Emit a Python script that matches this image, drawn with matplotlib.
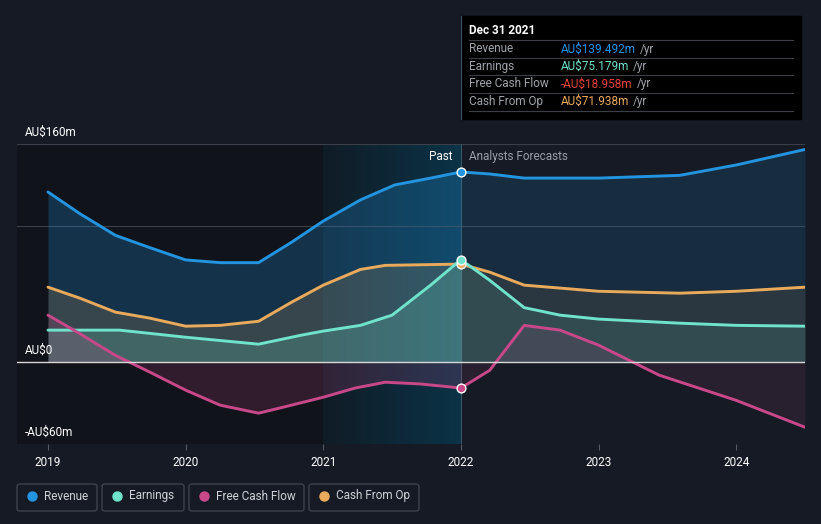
import numpy as np
import matplotlib
matplotlib.use('Agg')
from matplotlib import pyplot as plt
from matplotlib.colors import LinearSegmentedColormap
from matplotlib.patches import FancyBboxPatch, Rectangle

plt.rcParams['font.family'] = ['Roboto', 'DejaVu Sans']

# values (AU$ m), x in decimal years
rev_x = [2019.0, 2019.23, 2019.49, 2019.74, 2020.0, 2020.25, 2020.53, 2020.77, 2021.0, 2021.27, 2021.52, 2021.78, 2022.0]
rev_y = [124.8, 109, 93, 84, 75, 73, 73, 88, 103.5, 119, 130, 135, 139.492]
rev_fx = [2022.0, 2022.21, 2022.46, 2023.0, 2023.59, 2024.0, 2024.5]
rev_fy = [139.492, 138, 135, 135, 137, 144.6, 156]

earn_x = [2019.0, 2019.52, 2020.0, 2020.53, 2020.84, 2021.0, 2021.27, 2021.5, 2021.78, 2022.0]
earn_y = [23.5, 23.5, 18.3, 13.2, 19.8, 22.8, 27, 34.5, 56.5, 75.179]
earn_fx = [2022.0, 2022.21, 2022.46, 2022.72, 2023.0, 2023.59, 2024.0, 2024.5]
earn_fy = [75.179, 60, 40, 34.5, 31.6, 28.6, 27, 26.4]

fcf_x = [2019.0, 2019.23, 2019.49, 2019.74, 2020.0, 2020.25, 2020.53, 2020.77, 2021.0, 2021.23, 2021.45, 2021.71, 2022.0]
fcf_y = [34.5, 21, 5, -7.3, -20.5, -31.5, -37.4, -31.5, -25.7, -19, -14.7, -16, -18.958]
fcf_fx = [2022.0, 2022.21, 2022.46, 2022.72, 2023.0, 2023.44, 2024.0, 2024.5]
fcf_fy = [-18.958, -5.9, 27, 23.5, 12.5, -9.5, -28, -47.7]

cfo_x = [2019.0, 2019.23, 2019.49, 2019.74, 2020.0, 2020.25, 2020.53, 2020.77, 2021.0, 2021.27, 2021.45, 2022.0]
cfo_y = [55, 47, 36.7, 32.3, 26.4, 27, 30, 44, 56.5, 68, 71, 71.938]
cfo_fx = [2022.0, 2022.21, 2022.46, 2023.0, 2023.59, 2024.0, 2024.5]
cfo_fy = [71.938, 66, 56.5, 52, 50.6, 52, 55]

years = [2019, 2020, 2021, 2022, 2023, 2024]
legend_names = ['Revenue', 'Earnings', 'Free Cash Flow', 'Cash From Op']

BG = '#151a24'
C_REV = '#2394df'
C_EARN = '#6fe3cb'
C_FCF = '#c8488a'
C_CFO = '#e9ab5b'

fig = plt.figure(figsize=(8.21, 5.24), dpi=100, facecolor=BG)
ax = fig.add_axes([17 / 821, 80 / 524, 788 / 821, 300 / 524])
ax.set_facecolor(BG)
x0 = 2019 - 31 / 137.6
ax.set_xlim(x0, 2024.5)
ax.set_ylim(-60, 160)

# darker past area and gradient band for last year
ax.add_patch(Rectangle((x0, -60), 2021 - x0, 220, color='#101319', zorder=0, lw=0))
grad = np.linspace(0, 1, 256).reshape(1, -1)
cmap = LinearSegmentedColormap.from_list('band', ['#101c26', '#0b3347'])
ax.imshow(grad, extent=[2021, 2022, -60, 160], aspect='auto', cmap=cmap, zorder=0.5)

for g in [100, 160]:
    ax.axhline(g, color='#3a3f4a', lw=0.8, zorder=1)
ax.axhline(0, color='#d8d8d8', lw=1.0, zorder=6)
ax.axvline(2022, color='#3a5566', lw=0.8, zorder=1)

series = [
    (rev_x, rev_y, rev_fx, rev_fy, C_REV, 0.25),
    (cfo_x, cfo_y, cfo_fx, cfo_fy, C_CFO, 0.16),
    (earn_x, earn_y, earn_fx, earn_fy, C_EARN, 0.2),
    (fcf_x, fcf_y, fcf_fx, fcf_fy, C_FCF, 0.18),
]
for px, py, fx, fy, c, a in series:
    ax.fill_between(px, py, 0, color=c, alpha=a, lw=0, zorder=2)
    ax.fill_between(fx, fy, 0, color=c, alpha=a * 0.6, lw=0, zorder=2)
    ax.plot(px, py, color=c, lw=2.1, zorder=4, solid_capstyle='round', solid_joinstyle='round')
    ax.plot(fx, fy, color=c, lw=2.1, zorder=4, solid_capstyle='round', solid_joinstyle='round')
    ax.scatter([2022], [py[-1]], s=40, color=c, edgecolor='white', lw=1, zorder=7)

ax.set_xticks(years)
ax.set_xticklabels([str(y) for y in years], color='white', fontsize=8.5)
ax.tick_params(axis='x', length=4, color='#555a64', pad=5)
ax.set_yticks([])
for s in ax.spines.values():
    s.set_visible(False)

ax.text(2021.94, 160 - 9, 'Past', color='white', fontsize=8.5, ha='right', va='center', zorder=8)
ax.text(2022.06, 160 - 9, 'Analysts Forecasts', color='#9a9ea6', fontsize=8.5, ha='left', va='center', zorder=8)

fig.text(25 / 821, 1 - 132 / 524, 'AU$160m', color='white', fontsize=8.5, va='center')
fig.text(25 / 821, 1 - 350 / 524, 'AU$0', color='white', fontsize=8.5, va='center')
fig.text(25 / 821, 1 - 432 / 524, '-AU$60m', color='white', fontsize=8.5, va='center')

# tooltip
fig.add_artist(Rectangle((461 / 821, 1 - 119 / 524), 340 / 821, 103 / 524,
                         transform=fig.transFigure, color='black', zorder=10))
fig.add_artist(plt.Line2D([461 / 821, 461 / 821], [1 - 119 / 524, 1 - 16 / 524],
                          transform=fig.transFigure, color='#3a5566', lw=0.8, zorder=11))
fig.text(469 / 821, 1 - 31 / 524, 'Dec 31 2021', color='white', fontsize=8.5,
         fontweight='bold', va='center', zorder=12)
rows = [('Revenue', 'AU$139.492m', C_REV), ('Earnings', 'AU$75.179m', C_EARN),
        ('Free Cash Flow', '-AU$18.958m', '#e8413a'), ('Cash From Op', 'AU$71.938m', C_CFO)]
for i, (lab, val, c) in enumerate(rows):
    yc = 49 + i * 17.5
    fig.add_artist(plt.Line2D([469 / 821, 793 / 821], [1 - (yc - 9) / 524] * 2,
                              transform=fig.transFigure, color='#3c3f45', lw=0.8, zorder=11))
    fig.text(469 / 821, 1 - yc / 524, lab, color='#a0a4aa', fontsize=8.5, va='center', zorder=12)
    t = fig.text(561 / 821, 1 - yc / 524, val, color=c, fontsize=8.5, va='center', zorder=12)
    fig.canvas.draw()
    bb = t.get_window_extent()
    fig.text(bb.x1 / 821 + 4 / 821, 1 - yc / 524, '/yr', color='#a0a4aa', fontsize=8.5, va='center', zorder=12)
fig.add_artist(plt.Line2D([469 / 821, 793 / 821], [1 - 111 / 524] * 2,
                          transform=fig.transFigure, color='#3c3f45', lw=0.8, zorder=11))

# legend boxes
boxes = [(17, 80), (102, 82), (189, 115), (309, 110)]
cols = [C_REV, C_EARN, C_FCF, C_CFO]
for (bx, bw), name, c in zip(boxes, legend_names, cols):
    fig.add_artist(FancyBboxPatch((bx / 821, 1 - 511 / 524), bw / 821, 27 / 524,
                                  boxstyle='round,pad=0,rounding_size=0.004',
                                  transform=fig.transFigure, fc='none', ec='#3d424c', lw=1))
    fig.add_artist(plt.Line2D([(bx + 15) / 821], [1 - 496 / 524], marker='o', ms=6.5,
                              color=c, transform=fig.transFigure, lw=0))
    fig.text((bx + 27) / 821, 1 - 496 / 524, name, color='#d0d3d8', fontsize=8.5, va='center')

fig.savefig('out.png', dpi=100, facecolor=BG)
